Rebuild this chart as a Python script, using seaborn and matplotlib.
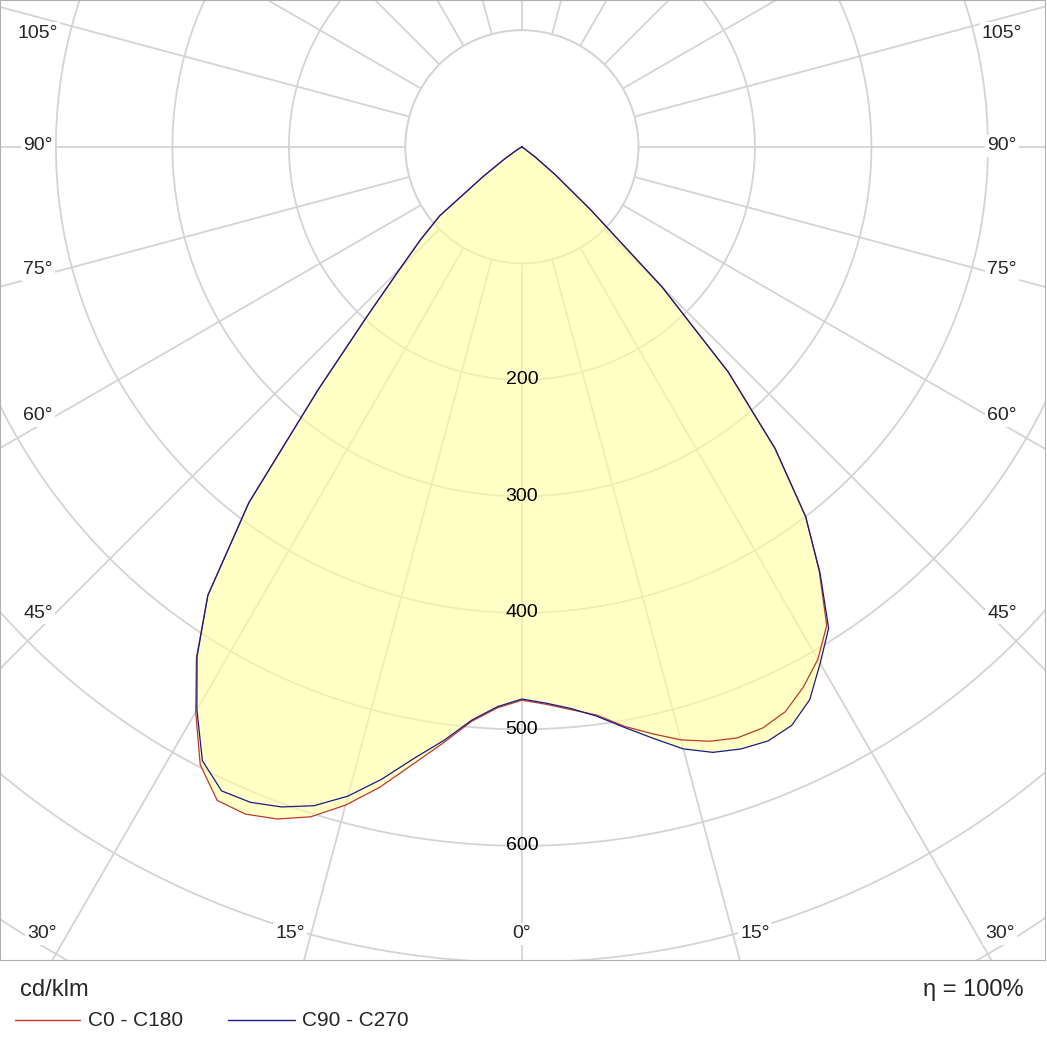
import numpy as np
import matplotlib
matplotlib.use("Agg")
import matplotlib.pyplot as plt
import seaborn as sns

sns.set_style("white")
plt.rcParams["font.family"] = "Liberation Sans"

gamma = [0, 2.5, 5, 7.5, 10, 12.5, 15, 17.5, 20, 22.5, 25, 27.5, 30, 32.5, 35, 37.5,
         40, 42.5, 45, 47.5, 50, 52.5, 55, 57.5, 60, 90]
c180 = [475, 482, 495, 516, 538, 563, 585, 603, 614, 620, 619, 598, 560, 520, 470, 385,
        272, 195, 148, 118, 92, 42, 18, 6, 0, 0]
c270 = [474, 481, 494, 514, 533, 556, 577, 593, 603, 609, 610, 594, 558, 519, 470, 385,
        272, 195, 148, 118, 92, 42, 18, 6, 0, 0]
c0 = [475, 479, 485, 492, 505, 516, 527, 535, 540, 540, 535, 523, 508, 487, 445, 400,
      338, 262, 170, 80, 38, 14, 0, 0, 0, 0]
c90 = [474, 478, 484, 493, 506, 520, 535, 545, 550, 552, 548, 535, 512, 490, 446, 400,
       338, 262, 170, 80, 38, 14, 0, 0, 0, 0]
ring_labels = [200, 300, 400, 500, 600]
unit = "cd/klm"
eta = "η = 100%"

def xy(ang, r, side):
    a = np.radians(np.asarray(ang, float))
    r = np.asarray(r, float)
    return side * r * np.sin(a), -r * np.cos(a)

fig = plt.figure(figsize=(10.47, 10.47), dpi=100)
ax = fig.add_axes([0, 1 - 960 / 1047, 1045 / 1047, 960 / 1047])
ax.set_xlim(-448, 449)
ax.set_ylim(-698, 126)
ax.set_aspect("auto")
ax.set_xticks([]); ax.set_yticks([])
for s in ax.spines.values():
    s.set_color("#b0b0b0")

grid = "#d4d4d4"
t = np.linspace(0, 2 * np.pi, 400)
for r in range(100, 1300, 100):
    ax.plot(r * np.cos(t), r * np.sin(t), color=grid, lw=1.3, zorder=1)
for a in range(0, 360, 15):
    ar = np.radians(a)
    ax.plot([100 * np.sin(ar), 1500 * np.sin(ar)], [-100 * np.cos(ar), -1500 * np.cos(ar)],
            color=grid, lw=1.3, zorder=1)

ax.add_patch(plt.Circle((0, 0), 100, facecolor="white", edgecolor=grid, lw=1.3, zorder=1.5))

lx, ly = xy(gamma, np.maximum(c180, c270), -1)
rx, ry = xy(gamma, np.maximum(c0, c90), 1)
ax.fill(np.concatenate([lx[::-1], rx]), np.concatenate([ly[::-1], ry]),
        color="#ffffa0", alpha=0.6, zorder=2, lw=0)

red = "#c0392b"; blue = "#1a1a8c"
x1, y1 = xy(gamma, c180, -1); x2, y2 = xy(gamma, c0, 1)
ax.plot(np.concatenate([x1[::-1], x2]), np.concatenate([y1[::-1], y2]), color=red, lw=0.9, zorder=3)
x1, y1 = xy(gamma, c270, -1); x2, y2 = xy(gamma, c90, 1)
ax.plot(np.concatenate([x1[::-1], x2]), np.concatenate([y1[::-1], y2]), color=blue, lw=0.9, zorder=3.1)

bb = dict(facecolor="white", edgecolor="none", pad=1.5)
for v in ring_labels:
    ax.text(0, -v, str(v), ha="center", va="center", fontsize=14, zorder=5, color="black")

def axpx(px, py):
    return px / 1045, 1 - py / 960

side_labels = [(33, "105°"), (146, "90°"), (270, "75°"), (416, "60°"), (613, "45°")]
for py, s in side_labels:
    ax.text(*axpx(38, py), s, transform=ax.transAxes, ha="center", va="center", fontsize=14, bbox=bb, zorder=6)
    ax.text(*axpx(1002, py), s, transform=ax.transAxes, ha="center", va="center", fontsize=14, bbox=bb, zorder=6)
for px, s in [(42, "30°"), (290, "15°"), (522, "0°"), (755, "15°"), (1000, "30°")]:
    ax.text(*axpx(px, 934), s, transform=ax.transAxes, ha="center", va="center", fontsize=14, bbox=bb, zorder=6)

fig.text(20 / 1047, 1 - 990 / 1047, unit, fontsize=17, va="center")
fig.text(1024 / 1047, 1 - 990 / 1047, eta, fontsize=17, va="center", ha="right")
fig.add_artist(plt.Line2D([15 / 1047, 80 / 1047], [1 - 1020 / 1047] * 2, color=red, lw=1))
fig.text(88 / 1047, 1 - 1020 / 1047, "C0 - C180", fontsize=15, va="center")
fig.add_artist(plt.Line2D([228 / 1047, 295 / 1047], [1 - 1020 / 1047] * 2, color=blue, lw=1))
fig.text(302 / 1047, 1 - 1020 / 1047, "C90 - C270", fontsize=15, va="center")

fig.savefig("out.png", dpi=100, facecolor="white")
